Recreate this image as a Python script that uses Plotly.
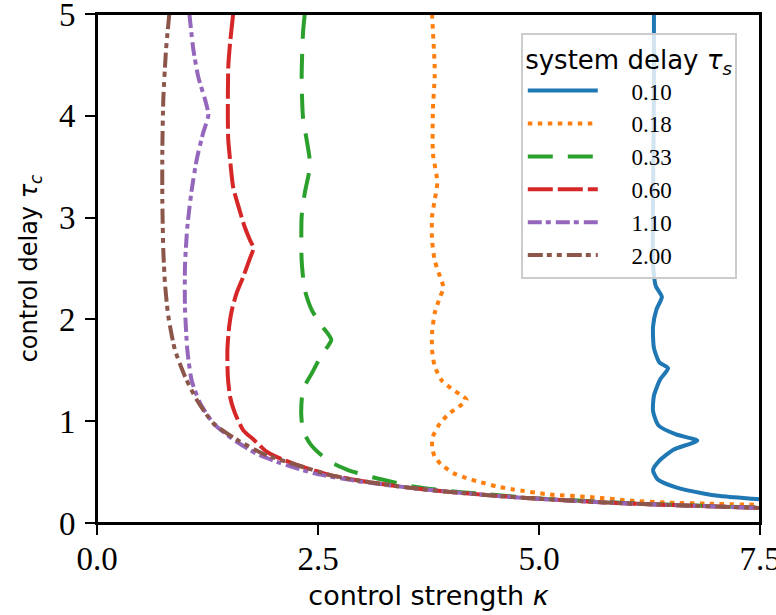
import plotly.graph_objects as go

# ---------------- data ----------------
labels = ["0.10", "0.18", "0.33", "0.60", "1.10", "2.00"]

k_010 = [6.30, 6.30, 6.29, 6.29, 6.32, 6.39, 6.33, 6.29, 6.30, 6.36, 6.46, 6.37, 6.30, 6.29,
         6.35, 6.55, 6.79, 6.52, 6.36, 6.29, 6.34, 6.55, 6.86, 7.05, 7.41, 7.50]
t_010 = [5.00, 4.20, 3.20, 2.55, 2.33, 2.22, 2.10, 1.93, 1.72, 1.58, 1.52, 1.41, 1.25, 1.10,
         0.96, 0.87, 0.81, 0.72, 0.61, 0.52, 0.43, 0.35, 0.29, 0.265, 0.238, 0.232]

k_018 = [3.79, 3.82, 3.82, 3.80, 3.80, 3.85, 3.82, 3.79, 3.79, 3.82, 3.88, 3.92, 3.88, 3.82,
         3.79, 3.79, 3.82, 3.90, 4.01, 4.11, 4.18, 4.09, 3.99, 3.88, 3.80, 3.79, 3.82, 3.90,
         4.03, 4.18, 4.30, 4.52, 4.71, 5.12, 5.58, 6.03, 6.48, 6.93, 7.50]
t_018 = [5.00, 4.48, 4.38, 4.06, 3.63, 3.35, 3.17, 3.01, 2.78, 2.58, 2.42, 2.31, 2.22, 2.06,
         1.86, 1.70, 1.54, 1.40, 1.32, 1.26, 1.21, 1.14, 1.08, 0.98, 0.85, 0.75, 0.65, 0.57,
         0.49, 0.44, 0.41, 0.36, 0.33, 0.28, 0.255, 0.22, 0.20, 0.19, 0.178]

k_033 = [2.35, 2.33, 2.315, 2.33, 2.41, 2.35, 2.315, 2.315, 2.35, 2.43, 2.54, 2.65, 2.54, 2.43,
         2.33, 2.31, 2.33, 2.41, 2.52, 2.64, 2.84, 3.12, 3.57, 4.03, 4.45, 4.90, 5.35, 6.00,
         6.50, 7.00, 7.50]
t_033 = [5.00, 4.81, 4.38, 3.99, 3.52, 3.24, 3.01, 2.58, 2.29, 2.09, 1.94, 1.80, 1.65, 1.47,
         1.31, 1.08, 0.91, 0.78, 0.68, 0.60, 0.52, 0.45, 0.36, 0.31, 0.28, 0.245, 0.225, 0.197,
         0.18, 0.165, 0.15]

k_060 = [1.54, 1.505, 1.485, 1.48, 1.485, 1.505, 1.54, 1.60, 1.67, 1.73, 1.77, 1.73, 1.655,
         1.58, 1.525, 1.495, 1.475, 1.48, 1.505, 1.56, 1.655, 1.77, 1.92, 2.03, 2.33, 2.64,
         2.975, 3.50, 4.00, 4.50, 4.90, 5.50, 6.00, 6.50, 7.00, 7.50]
t_060 = [5.00, 4.71, 4.48, 3.99, 3.76, 3.57, 3.30, 3.11, 2.91, 2.78, 2.70, 2.60, 2.42,
         2.26, 2.09, 1.93, 1.70, 1.44, 1.24, 1.08, 0.91, 0.82, 0.70, 0.65, 0.55, 0.47,
         0.415, 0.35, 0.305, 0.268, 0.243, 0.213, 0.192, 0.176, 0.162, 0.148]

k_110 = [1.045, 1.09, 1.146, 1.222, 1.26, 1.20, 1.128, 1.071, 1.022, 0.995, 0.995, 1.022,
         1.071, 1.165, 1.316, 1.542, 1.807, 2.07, 2.447, 2.94, 3.50, 4.00, 4.50, 4.90, 5.50,
         6.00, 6.50, 7.00, 7.50]
t_110 = [5.00, 4.65, 4.38, 4.16, 4.01, 3.83, 3.57, 3.27, 2.91, 2.52, 2.12, 1.70,
         1.40, 1.18, 0.98, 0.82, 0.68, 0.59, 0.49, 0.412, 0.35, 0.305, 0.268, 0.243, 0.213,
         0.192, 0.176, 0.162, 0.148]

k_200 = [0.818, 0.781, 0.75, 0.739, 0.739, 0.75, 0.769, 0.807, 0.882, 0.995, 1.128, 1.316,
         1.58, 1.88, 2.26, 2.64, 2.975, 3.50, 4.00, 4.50, 4.90, 5.50, 6.00, 6.50, 7.00, 7.50]
t_200 = [5.00, 4.65, 4.16, 3.66, 3.17, 2.68, 2.35, 2.03, 1.70, 1.44, 1.21, 0.98,
         0.82, 0.68, 0.57, 0.47, 0.415, 0.35, 0.305, 0.268, 0.243, 0.213, 0.192, 0.176,
         0.162, 0.148]

x_ticks = [0, 2.5, 5, 7.5]
x_ticktext = ["0.0", "2.5", "5.0", "7.5"]
y_ticks = [0, 1, 2, 3, 4, 5]
y_ticktext = ["0", "1", "2", "3", "4", "5"]

# ---------------- styling ----------------
series = [(k_010, t_010), (k_018, t_018), (k_033, t_033),
          (k_060, t_060), (k_110, t_110), (k_200, t_200)]
colors = ["#1f77b4", "#ff7f0e", "#2ca02c", "#d62728", "#9467bd", "#8c564b"]
dashes = ["solid", "4.5px,5.5px", "25px,15px", "25px,5px",
          "14px,4px,5px,5px", "15px,4px,5px,5px,5px,5px"]

SERIF = "Liberation Serif, Times New Roman, serif"
SANS = "DejaVu Sans, sans-serif"
PAD = "\u00a0" * 5

fig = go.Figure()
for (kx, ty), lab, c, d in zip(series, labels, colors, dashes):
    fig.add_trace(go.Scatter(
        x=kx, y=ty, mode="lines", name=PAD + lab,
        line=dict(color=c, width=4, dash=d, shape="spline", smoothing=0.6),
    ))

axis_common = dict(
    showline=True, linecolor="black", linewidth=2, mirror=True,
    ticks="outside", ticklen=10, tickwidth=2, tickcolor="black",
    showgrid=False, zeroline=False, ticklabeloverflow="allow", automargin=False,
    tickfont=dict(family=SERIF, size=33, color="black"),
)

fig.update_layout(
    width=776, height=615,
    margin=dict(l=97, r=16, t=14, b=92),
    paper_bgcolor="white", plot_bgcolor="white",
    xaxis=dict(range=[0, 7.5], tickvals=x_ticks, ticktext=x_ticktext,
               ticklabelstandoff=-5,
               title=dict(text="control strength <i>κ</i>",
                          font=dict(family=SANS, size=27, color="black"), standoff=11),
               **axis_common),
    yaxis=dict(range=[0, 5], tickvals=y_ticks, ticktext=y_ticktext,
               ticklabelstandoff=3,
               title=dict(text="control delay <i>τ</i><sub><i>c</i></sub>",
                          font=dict(family=SANS, size=24, color="black"), standoff=15),
               **axis_common),
    legend=dict(
        x=0.965, xanchor="right", y=0.962, yanchor="top",
        bgcolor="rgba(255,255,255,0.8)", bordercolor="#cccccc", borderwidth=2,
        font=dict(family=SERIF, size=23, color="black"),
        title=dict(text="system delay <i>τ</i><sub><i>s</i></sub>", side="top center",
                   font=dict(family=SANS, size=26, color="black")),
        itemwidth=70, tracegroupgap=0,
    ),
    shapes=[dict(type="rect", xref="paper", yref="paper", x0=0, x1=1, y0=0, y1=1,
                 line=dict(color="black", width=2), layer="above")],
    showlegend=True,
)

fig.write_html("out.html",
               config={"displayModeBar": False},
               post_script="document.body.style.margin='0px';"
                           "document.body.style.overflow='hidden';")
